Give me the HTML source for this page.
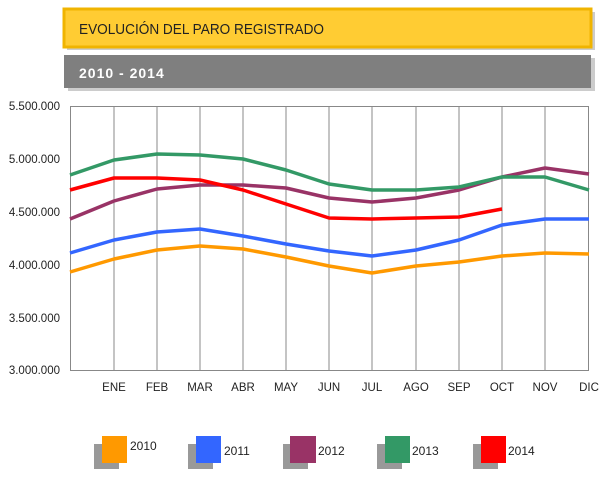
<!DOCTYPE html><html><head><style>body{margin:0;background:#fff;font-family:"Liberation Sans",sans-serif}</style></head><body>
<svg width="606" height="478" xmlns="http://www.w3.org/2000/svg" font-family="Liberation Sans, sans-serif">
<rect x="67" y="12" width="528" height="38" fill="#999" opacity="0.5"/>
<rect x="64" y="9" width="527" height="38" fill="#ffcc33" stroke="#f0b400" stroke-width="3"/>
<text x="79" y="34" font-size="15" fill="#222" textLength="245" lengthAdjust="spacingAndGlyphs">EVOLUCIÓN DEL PARO REGISTRADO</text>
<rect x="68" y="58" width="527" height="33" fill="#aaa" opacity="0.6"/>
<rect x="64" y="55" width="527" height="33" fill="#7f7f7f"/>
<text x="79" y="78" font-size="14" font-weight="bold" fill="#fff" letter-spacing="1">2010 - 2014</text>
<g stroke="#888" stroke-width="1" fill="none">
<rect x="70.5" y="106.5" width="518" height="264"/>
<path d="M114 106V370M157 106V370M200 106V370M243 106V370M286 106V370M329 106V370M372 106V370M416 106V370M459 106V370M502 106V370M545 106V370"/>
</g>
<g font-size="11.5" fill="#222" text-anchor="end">
<text x="60" y="110">5.500.000</text><text x="60" y="163">5.000.000</text><text x="60" y="216">4.500.000</text><text x="60" y="269">4.000.000</text><text x="60" y="322">3.500.000</text><text x="60" y="374">3.000.000</text>
</g>
<g font-size="11.5" fill="#222" text-anchor="middle">
<text x="114" y="391">ENE</text><text x="157" y="391">FEB</text><text x="200" y="391">MAR</text><text x="243" y="391">ABR</text><text x="286" y="391">MAY</text><text x="329" y="391">JUN</text><text x="372" y="391">JUL</text><text x="416" y="391">AGO</text><text x="459" y="391">SEP</text><text x="502" y="391">OCT</text><text x="545" y="391">NOV</text><text x="589" y="391">DIC</text>
</g>
<g fill="none" stroke-width="3.5" stroke-linejoin="round">
<polyline stroke="#ff9900" points="70,272 114,259 157,250 200,246 243,249 286,257 329,266 372,273 416,266 459,262 502,256 545,253 589,254"/>
<polyline stroke="#3366ff" points="70,253 114,240 157,232 200,229 243,236 286,244 329,251 372,256 416,250 459,240 502,225 545,219 589,219"/>
<polyline stroke="#993366" points="70,219 114,201 157,189 200,185 243,185 286,188 329,198 372,202 416,198 459,190 502,177 545,168 589,174"/>
<polyline stroke="#339966" points="70,175 114,160 157,154 200,155 243,159 286,170 329,184 372,190 416,190 459,187 502,177 545,177 589,190"/>
<polyline stroke="#ff0000" points="70,190 114,178 157,178 200,180 243,190 286,204 329,218 372,219 416,218 459,217 502,209"/>
</g>
<g font-size="12" fill="#222">
<rect x="94" y="444" width="25" height="25" fill="#999"/><rect x="102" y="436" width="25" height="27" fill="#ff9900"/><text x="130" y="450">2010</text>
<rect x="188" y="444" width="25" height="25" fill="#999"/><rect x="196" y="436" width="25" height="27" fill="#3366ff"/><text x="224" y="455">2011</text>
<rect x="283" y="444" width="25" height="25" fill="#999"/><rect x="290" y="436" width="26" height="27" fill="#993366"/><text x="318" y="455">2012</text>
<rect x="377" y="444" width="25" height="25" fill="#999"/><rect x="385" y="436" width="25" height="27" fill="#339966"/><text x="412" y="455">2013</text>
<rect x="473" y="444" width="25" height="25" fill="#999"/><rect x="481" y="436" width="25" height="27" fill="#ff0000"/><text x="508" y="455">2014</text>
</g>
</svg>
</body></html>
